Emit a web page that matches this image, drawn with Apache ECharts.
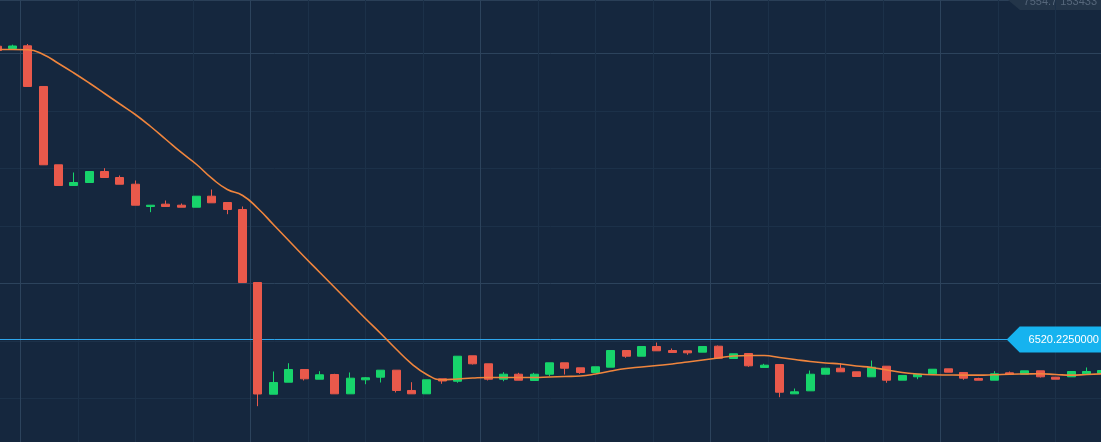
<!DOCTYPE html>
<html>
<head>
<meta charset="utf-8">
<script src="https://cdn.jsdelivr.net/npm/echarts@6/dist/echarts.min.js"></script>
<style>
html,body{margin:0;padding:0;background:#15273e;overflow:hidden;}
#c{width:1101px;height:442px;}
</style>
</head>
<body>
<div id="c"></div>
<script>
// ---- data ----
const opens  = [6571.23,6570.83,6571.30,6564.23,6550.61,6547.01,6547.53,6549.44,6548.40,6547.23,
                6543.36,6543.76,6543.58,6543.23,6545.15,6544.05,6542.83,6530.14,6510.71,6512.80,
                6515.01,6513.32,6514.14,6510.78,6513.22,6513.67,6514.89,6511.36,6510.78,6513.39,
                6512.97,6517.39,6516.00,6513.32,6514.19,6513.10,6514.19,6516.17,6515.30,6514.49,
                6515.41,6518.31,6517.32,6519.01,6518.31,6518.26,6518.02,6519.06,6516.92,6517.79,
                6515.36,6515.88,6510.78,6511.30,6514.19,6515.23,6514.61,6513.74,6515.58,6513.15,
                6513.74,6514.26,6515.13,6514.49,6513.44,6513.15,6514.43,6514.19,6514.78,6513.67,
                6513.74,6514.26,6514.37];
const closes = [6570.49,6571.27,6564.23,6550.61,6547.01,6547.53,6549.44,6548.40,6547.23,6543.58,
                6543.58,6543.36,6543.23,6545.15,6544.00,6542.83,6530.14,6510.75,6512.75,6515.01,
                6513.39,6514.09,6510.78,6513.50,6513.57,6514.89,6511.36,6510.78,6513.22,6513.01,
                6517.32,6516.00,6513.32,6514.19,6513.15,6514.19,6516.17,6515.23,6514.49,6515.48,
                6518.31,6517.32,6519.01,6518.26,6517.97,6517.91,6519.01,6516.97,6517.74,6515.65,
                6515.76,6511.06,6511.13,6514.19,6515.23,6514.61,6513.79,6515.41,6513.15,6513.97,
                6514.19,6515.06,6514.54,6513.50,6513.15,6514.26,6514.19,6514.78,6513.74,6513.32,
                6514.66,6514.66,6514.83];
const lows   = [6570.40,6570.80,6564.23,6550.61,6547.01,6547.01,6547.53,6548.40,6547.23,6543.58,
                6542.37,6543.36,6543.23,6543.23,6544.00,6542.02,6530.14,6508.63,6510.71,6512.80,
                6513.10,6513.32,6510.78,6510.78,6512.45,6512.75,6511.01,6510.78,6510.78,6512.52,
                6512.70,6515.88,6513.10,6512.97,6513.15,6513.10,6513.84,6514.14,6514.26,6514.49,
                6515.41,6517.04,6517.32,6518.26,6517.97,6517.57,6518.02,6516.97,6516.92,6515.48,
                6515.36,6510.19,6510.78,6511.30,6514.19,6514.61,6513.79,6513.74,6512.70,6513.15,
                6513.32,6514.26,6514.54,6513.22,6513.15,6513.15,6514.19,6514.19,6513.62,6513.32,
                6513.74,6514.26,6514.37];
const highs  = [6571.35,6571.50,6571.62,6564.23,6550.61,6549.27,6549.44,6550.02,6548.75,6547.88,
                6543.58,6544.40,6543.88,6545.15,6546.31,6544.05,6543.36,6530.14,6514.66,6516.10,
                6515.01,6514.71,6514.26,6514.49,6513.70,6514.89,6514.89,6512.80,6513.22,6513.39,
                6517.32,6517.39,6516.00,6514.54,6514.43,6514.43,6516.17,6516.17,6515.30,6515.48,
                6518.31,6518.31,6519.01,6519.70,6518.66,6518.26,6519.01,6519.18,6517.74,6517.79,
                6516.00,6515.88,6511.70,6514.83,6515.23,6516.10,6514.61,6516.57,6515.58,6513.97,
                6514.19,6515.06,6515.13,6514.49,6513.57,6514.71,6514.66,6514.78,6514.78,6513.67,
                6514.66,6515.36,6514.83];
const maLine = [6570.66,6570.66,6570.61,6569.79,6568.23,6566.57,6564.83,6563.01,6561.18,6559.36,
                6557.27,6555.01,6552.75,6550.66,6548.23,6546.31,6545.27,6543.01,6540.23,6537.44,
                6534.66,6531.97,6529.27,6526.57,6523.88,6521.27,6518.57,6516.05,6514.14,6513.22,
                6513.36,6513.53,6513.62,6513.62,6513.62,6513.62,6513.70,6513.79,6513.88,6514.23,
                6514.75,6515.18,6515.44,6515.70,6515.97,6516.31,6516.66,6517.01,6517.36,6517.44,
                6517.44,6517.10,6516.75,6516.40,6516.14,6515.97,6515.62,6515.36,6514.92,6514.49,
                6514.23,6514.09,6514.05,6514.03,6514.03,6514.10,6514.19,6514.23,6514.26,6514.14,
                6514.03,6514.14,6514.26];
const priceLine = 6520.225;
const priceLabel = '6520.2250000';
const cornerLabel = '7554.7 153433';
// candle times, minutes (one candle every 4 minutes)
const minutes = opens.map((_, i) => 24 + 4 * i);

const UP = '#17d46b', DOWN = '#e9594b';
const MAJOR = '#2c435c', MINOR = '#1c3149';
const PRICE_BLUE = '#2ea6ec';

const chart = echarts.init(document.getElementById('c'), null, {renderer: 'canvas'});
chart.setOption({
  animation: false,
  backgroundColor: '#15273e',
  grid: {left: -37.3, right: -12.2, top: -4.2, bottom: -13.8, outerBoundsMode: 'none', containLabel: false},
  xAxis: {
    type: 'value', min: 15, max: 315, interval: 15,
    axisLine: {show: false}, axisTick: {show: false}, axisLabel: {show: false},
    splitLine: {show: true, lineStyle: {color: [MINOR, MAJOR, MINOR, MINOR], width: 1}}
  },
  yAxis: {
    type: 'value', min: 6500, max: 6580, interval: 10, scale: true,
    axisLine: {show: false}, axisTick: {show: false}, axisLabel: {show: false},
    splitLine: {show: true, lineStyle: {color: [MINOR, MINOR, MINOR, MAJOR], width: 1}}
  },
  series: [
    {
      type: 'candlestick',
      barWidth: 8.5,
      data: minutes.map((m, i) => [m, opens[i], closes[i], lows[i], highs[i]]),
      itemStyle: {color: UP, color0: DOWN, borderColor: UP, borderColor0: DOWN, borderWidth: 1}
    },
    {
      // last-price level line across the visible span
      type: 'line',
      data: [[minutes[0], priceLine], [minutes[minutes.length - 1], priceLine]],
      showSymbol: false,
      symbol: 'none',
      silent: true,
      lineStyle: {color: PRICE_BLUE, width: 1},
      emphasis: {disabled: true},
      z: 2
    },
    {
      type: 'line',
      data: minutes.map((m, i) => [m, maLine[i]]),
      smooth: true,
      showSymbol: false,
      symbol: 'none',
      lineStyle: {color: '#f0853d', width: 1.6},
      z: 3,
      markPoint: {
        silent: true,
        data: [{
          coord: ['max', priceLine],
          symbol: 'path://M0,13L13,0L100,0L100,26L13,26Z',
          symbolSize: [100, 26],
          symbolOffset: [-45, 0],
          itemStyle: {color: '#16b3ef'},
          label: {
            show: true, position: 'inside', formatter: priceLabel,
            color: '#ffffff', fontSize: 11, fontFamily: 'Liberation Sans, Arial, sans-serif',
            offset: [7, 0]
          }
        }]
      }
    }
  ],
  graphic: [
    {type: 'rect', left: 0, top: 0, shape: {width: 1101, height: 1}, style: {fill: '#2a3f57'}, silent: true},
    {
      type: 'polygon', silent: true,
      shape: {points: [[1008, 0], [1101, 0], [1101, 10], [1020, 10]]},
      style: {fill: '#233549'}
    },
    {
      type: 'text', silent: true, right: 4, top: -4,
      style: {text: cornerLabel, fill: '#56677b', font: '11px "Liberation Sans", Arial, sans-serif'}
    }
  ]
});
</script>
</body>
</html>
